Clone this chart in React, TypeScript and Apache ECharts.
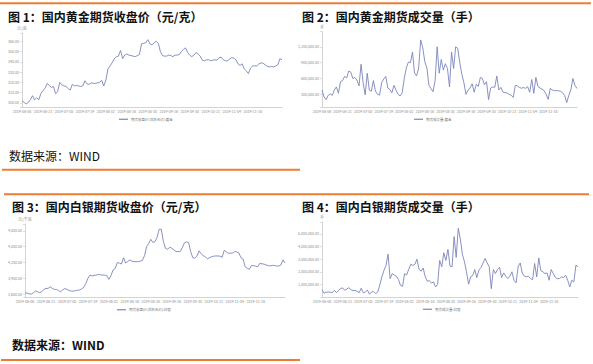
import React, { useEffect, useRef } from 'react';
import * as echarts from 'echarts';

const dates = [
  '2019-06-06','2019-06-10','2019-06-11','2019-06-12','2019-06-13','2019-06-14','2019-06-17','2019-06-18','2019-06-19','2019-06-20',
  '2019-06-21','2019-06-24','2019-06-25','2019-06-26','2019-06-27','2019-06-28','2019-07-01','2019-07-02','2019-07-03','2019-07-04',
  '2019-07-05','2019-07-08','2019-07-09','2019-07-10','2019-07-11','2019-07-12','2019-07-15','2019-07-16','2019-07-17','2019-07-18',
  '2019-07-19','2019-07-22','2019-07-23','2019-07-24','2019-07-25','2019-07-26','2019-07-29','2019-07-30','2019-07-31','2019-08-01',
  '2019-08-02','2019-08-05','2019-08-06','2019-08-07','2019-08-08','2019-08-09','2019-08-12','2019-08-13','2019-08-14','2019-08-15',
  '2019-08-16','2019-08-19','2019-08-20','2019-08-21','2019-08-22','2019-08-23','2019-08-26','2019-08-27','2019-08-28','2019-08-29',
  '2019-08-30','2019-09-02','2019-09-03','2019-09-04','2019-09-05','2019-09-06','2019-09-09','2019-09-10','2019-09-11','2019-09-12',
  '2019-09-16','2019-09-17','2019-09-18','2019-09-19','2019-09-20','2019-09-23','2019-09-24','2019-09-25','2019-09-26','2019-09-27',
  '2019-09-30','2019-10-08','2019-10-09','2019-10-10','2019-10-11','2019-10-14','2019-10-15','2019-10-16','2019-10-17','2019-10-18',
  '2019-10-21','2019-10-22','2019-10-23','2019-10-24','2019-10-25','2019-10-28','2019-10-29','2019-10-30','2019-10-31','2019-11-01',
  '2019-11-04','2019-11-05','2019-11-06','2019-11-07','2019-11-08','2019-11-11','2019-11-12','2019-11-13','2019-11-14','2019-11-15',
  '2019-11-18','2019-11-19','2019-11-20','2019-11-21','2019-11-22','2019-11-25','2019-11-26','2019-11-27','2019-11-28','2019-11-29',
  '2019-12-02','2019-12-03','2019-12-04','2019-12-05','2019-12-06'
];

// 图1 黄金期货收盘价 (元/克)
const goldClose = [
  302, 300.5, 299, 300.5, 303, 307, 303, 305, 303, 309,
  312, 314, 319, 317, 315, 316, 309, 311, 320, 317.5,
  316.5, 316, 314, 312.5, 318, 316.5, 317, 316.5, 316, 316.5,
  321.5, 318.5, 318, 319.5, 319, 319, 319.5, 320, 322, 316.5,
  322, 333, 336, 339, 343, 345, 345.5, 351, 343, 346.5,
  347.5, 346.5, 346, 345.5, 345, 346, 347, 357.5, 358, 358.5,
  361.5, 357.5, 356.5, 358.5, 360, 358, 350, 346, 345.5, 345.5,
  346.5, 346, 345, 346.5, 346.5, 347, 350, 352, 353.5, 349,
  346.5, 345, 346.5, 349, 347.5, 345.5, 341.5, 341, 342, 342,
  341, 341.5, 342, 341.5, 344, 344.5, 342, 341, 341, 342.5,
  344, 343.5, 342, 338, 336.5, 338, 333, 331, 328.5, 334,
  336, 336, 336, 338, 339, 338.5, 337, 335.5, 335, 335.5,
  335, 336, 337, 343, 342
];

// 图2 黄金期货成交量 (手)
const goldVolume = [
  382000, 250000, 200000, 280000, 310000, 280000, 382000, 440000, 320000, 540000,
  560000, 640000, 610000, 740000, 720000, 600000, 620000, 570000, 460000, 870000,
  520000, 290000, 700000, 380000, 360000, 560000, 360000, 300000, 285000, 520000,
  590000, 640000, 420000, 390000, 330000, 470000, 380000, 300000, 270000, 330000,
  600000, 800000, 910000, 900000, 1100000, 700000, 650000, 800000, 1330000, 1180000,
  917000, 800000, 470000, 410000, 350000, 560000, 1200000, 700000, 960000, 760000,
  880000, 790000, 440000, 1100000, 790000, 1200000, 1170000, 900000, 680000, 520000,
  300000, 380000, 420000, 500000, 340000, 490000, 450000, 620000, 600000, 480000,
  540000, 200000, 420000, 440000, 432000, 646000, 382000, 432000, 340000, 331000,
  325000, 300000, 280000, 243000, 470000, 460000, 430000, 415000, 430000, 413000,
  445000, 340000, 580000, 319000, 621000, 450000, 420000, 400000, 370000, 300000,
  205000, 413000, 382000, 370000, 369000, 369000, 355000, 330000, 280000, 142000,
  280000, 382000, 600000, 470000, 410000
];

// 图3 白银期货收盘价 (元/千克)
const silverClose = [
  3625, 3618, 3605, 3600, 3625, 3660, 3645, 3628, 3645, 3690,
  3708, 3708, 3738, 3710, 3689, 3689, 3665, 3645, 3680, 3705,
  3690, 3670, 3657, 3657, 3665, 3676, 3676, 3700, 3727, 3800,
  3900, 3960, 3945, 3955, 3960, 3975, 3965, 3962, 3960, 3950,
  3880, 3950, 4057, 4085, 4197, 4190, 4170, 4290, 4190, 4220,
  4248, 4225, 4216, 4216, 4216, 4225, 4240, 4330, 4500, 4560,
  4640, 4580, 4595, 4680, 4832, 4830, 4600, 4470, 4450, 4490,
  4470, 4440, 4410, 4406, 4406, 4480, 4570, 4590, 4580, 4410,
  4290, 4280, 4320, 4420, 4370, 4330, 4310, 4270, 4290, 4311,
  4320, 4324, 4324, 4320, 4298, 4430, 4400, 4375, 4375, 4380,
  4406, 4400, 4380, 4290, 4265, 4120, 4089, 4070, 4140, 4140,
  4130, 4120, 4184, 4175, 4168, 4152, 4140, 4135, 4146, 4140,
  4133, 4133, 4150, 4250, 4190
];

// 图4 白银期货成交量 (手)
const silverVolume = [
  580000, 300000, 380000, 400000, 380000, 350000, 530000, 350000, 500000, 680000,
  720000, 530000, 640000, 740000, 580000, 500000, 520000, 450000, 340000, 700000,
  330000, 400000, 550000, 220000, 400000, 430000, 270000, 400000, 950000, 1600000,
  2100000, 2500000, 3400000, 1460000, 1850000, 1750000, 1650000, 1400000, 930000, 850000,
  1860000, 1750000, 2200000, 2600000, 2500000, 2600000, 3000000, 2200000, 2050000, 2300000,
  1600000, 1250000, 1300000, 1100000, 1200000, 800000, 1000000, 2900000, 2400000, 3510000,
  2900000, 3780000, 2450000, 2400000, 4790000, 3140000, 5450000, 4600000, 3400000, 2800000,
  2000000, 1010000, 1600000, 1700000, 2180000, 1540000, 2130000, 2340000, 2700000, 3060000,
  2700000, 2400000, 660000, 2180000, 1860000, 2180000, 2350000, 1540000, 1910000, 1650000,
  1460000, 1650000, 2000000, 1330000, 1120000, 2400000, 2700000, 1900000, 1650000, 1600000,
  1650000, 1460000, 1380000, 2660000, 1600000, 3100000, 2100000, 2000000, 1860000, 1910000,
  1330000, 2180000, 1860000, 1550000, 1460000, 1460000, 1600000, 1540000, 1730000, 1330000,
  800000, 1330000, 1200000, 2530000, 2400000
];

const titles = [
  '图 1：国内黄金期货收盘价（元/克）',
  '图 2：国内黄金期货成交量（手）',
  '图 3：国内白银期货收盘价（元/克）',
  '图 4：国内白银期货成交量（手）',
];
const seriesNames = ['期货收盘价(活跃合约):黄金', '期货成交量:黄金', '期货收盘价(活跃合约):白银', '期货成交量:白银'];
const units = ['元/克', '手', '元/千克', '手'];
const sourceText = '数据来源：WIND';

const FONT = '"Noto Sans CJK SC", "Noto Sans", sans-serif';
const LINE = '#7c85bb';
const ORANGE = '#ED7D31';
const AXIS = '#c8c8c8';
const LABEL = '#8a8a8a';

function fmt(v: number) {
  return v.toLocaleString('en-US', { minimumFractionDigits: 2, maximumFractionDigits: 2 });
}

const panels = [
  { grid: { left: 22, top: 33, width: 260, height: 74 }, min: 296, max: 368, step: 10, data: goldClose, legend: { left: 119, top: 117.5 } },
  { grid: { left: 322, top: 31.5, width: 255, height: 75.5 }, min: 60000, max: 1490000, step: 300000, data: goldVolume, legend: { left: 414, top: 117.5 } },
  { grid: { left: 25, top: 224, width: 260, height: 73 }, min: 3545, max: 4930, step: 300, data: silverClose, legend: { left: 117, top: 308 } },
  { grid: { left: 322, top: 222, width: 256, height: 75 }, min: 0, max: 5950000, step: 1000000, data: silverVolume, legend: { left: 423, top: 307.5 } },
];

export default function App() {
  const ref = useRef<HTMLDivElement>(null);
  useEffect(() => {
    if (!ref.current) return;
    const chart = echarts.init(ref.current, null, { renderer: 'svg' });
    const option: any = {
      animation: false,
      backgroundColor: '#ffffff',
      textStyle: { fontFamily: FONT },
      grid: panels.map((p) => ({ ...p.grid, containLabel: false })),
      xAxis: panels.map((p, i) => ({
        gridIndex: i,
        type: 'category',
        data: dates,
        boundaryGap: false,
        axisLine: { lineStyle: { color: AXIS, width: 0.8 } },
        axisTick: { show: false },
        splitLine: { show: false },
        axisLabel: { interval: 9, fontSize: 3.6, color: LABEL, margin: 3, fontFamily: FONT, showMaxLabel: false },
      })),
      yAxis: panels.map((p, i) => ({
        gridIndex: i,
        type: 'value',
        min: p.min,
        max: p.max,
        splitNumber: 5,
        name: units[i],
        nameLocation: 'end',
        nameGap: 3,
        nameTextStyle: { fontSize: 4, color: LABEL, fontFamily: FONT },
        axisLine: { show: true, lineStyle: { color: AXIS, width: 0.8 } },
        axisTick: { show: true, length: 2, lineStyle: { color: AXIS, width: 0.6 } },
        splitLine: { show: false },
        axisLabel: {
          fontSize: 3.6,
          color: LABEL,
          margin: 3,
          fontFamily: FONT,
          formatter: (v: number) => (Math.round(v) % p.step === 0 && v > p.min && v < p.max ? fmt(v) : ''),
        },
      })),
      legend: panels.map((p, i) => ({
        data: [seriesNames[i]],
        left: p.legend.left,
        top: p.legend.top,
        padding: 0,
        icon: 'rect',
        itemWidth: 9,
        itemHeight: 1.2,
        itemGap: 2,
        textStyle: { fontSize: 3.5, color: '#777', fontFamily: FONT, padding: [0, 0, 0, -2] },
      })),
      series: panels.map((p, i) => ({
        name: seriesNames[i],
        type: 'line',
        xAxisIndex: i,
        yAxisIndex: i,
        data: p.data,
        showSymbol: false,
        symbol: 'none',
        lineStyle: { color: LINE, width: 0.9 },
        itemStyle: { color: LINE },
      })),
      graphic: [
        { type: 'rect', shape: { x: 0, y: 2.2, width: 591, height: 2 }, style: { fill: ORANGE } },
        { type: 'rect', shape: { x: 2, y: 168.8, width: 298, height: 2 }, style: { fill: ORANGE } },
        { type: 'rect', shape: { x: 4, y: 193.2, width: 585, height: 2 }, style: { fill: ORANGE } },
        { type: 'rect', shape: { x: 1, y: 359, width: 299, height: 2 }, style: { fill: ORANGE } },
        { type: 'text', x: 8, y: 16, style: { text: titles[0], font: `bold 12px ${FONT}`, fill: '#111', textVerticalAlign: 'middle' } },
        { type: 'text', x: 302, y: 16, style: { text: titles[1], font: `bold 12px ${FONT}`, fill: '#111', textVerticalAlign: 'middle' } },
        { type: 'text', x: 12, y: 206, style: { text: titles[2], font: `bold 12px ${FONT}`, fill: '#111', textVerticalAlign: 'middle' } },
        { type: 'text', x: 302, y: 206, style: { text: titles[3], font: `bold 12px ${FONT}`, fill: '#111', textVerticalAlign: 'middle' } },
        { type: 'text', x: 9, y: 155, style: { text: sourceText, font: `12px ${FONT}`, fill: '#111', textVerticalAlign: 'middle' } },
        { type: 'text', x: 12, y: 344, style: { text: sourceText, font: `bold 12px ${FONT}`, fill: '#111', textVerticalAlign: 'middle' } },
      ],
    };
    chart.setOption(option);
    return () => chart.dispose();
  }, []);
  return <div ref={ref} style={{ position: 'fixed', left: 0, top: 0, width: 593, height: 364 }} />;
}
